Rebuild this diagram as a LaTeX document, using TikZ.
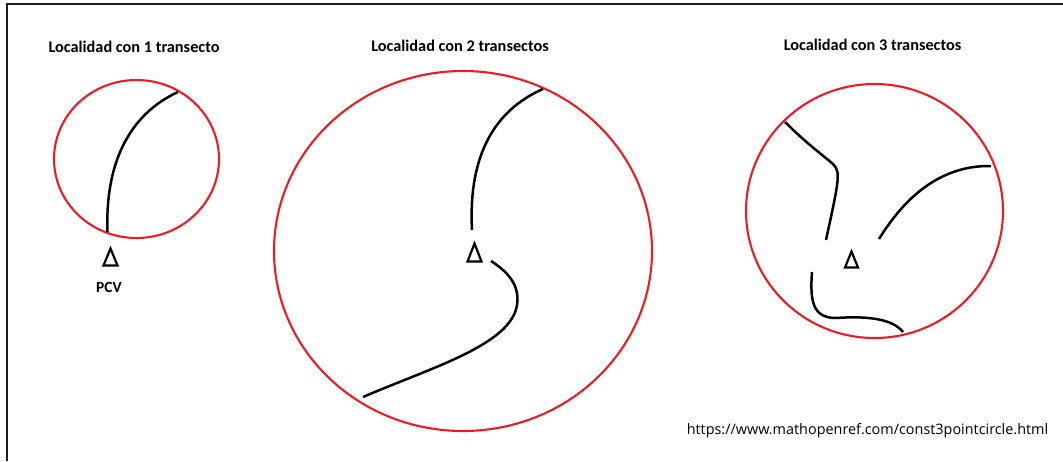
\documentclass[tikz,border=0pt]{standalone}
\usepackage{fontspec}
\setmainfont{Carlito}
\newfontfamily\urlfont{Open Sans}
\begin{document}
\begin{tikzpicture}[x=1pt,y=-1pt,
  zone/.style={draw={rgb,255:red,237;green,28;blue,36},line width=2.1pt},
  tran/.style={draw=black,line width=2.5pt,line cap=butt},
  pcv/.style={draw=black,line width=2.2pt,line join=miter},
  ttl/.style={font=\bfseries\fontsize{16.3}{19}\selectfont,inner sep=0pt},
  lbl/.style={font=\bfseries\fontsize{15.5}{18}\selectfont,inner sep=0pt},
  web/.style={font=\urlfont\fontsize{14.4}{17}\selectfont,inner sep=0pt}]
\useasboundingbox (0,0) rectangle (1063,461);
% frame (top and left edges)
\draw[line width=2.2pt,draw={rgb,255:red,30;green,30;blue,30}] (7,461) -- (7,4) -- (1063,4);
% titles
\node[ttl] (t1) at (134,47) {Localidad con 1 transecto};
\node[ttl] (t2) at (460,46) {Localidad con 2 transectos};
\node[ttl] (t3) at (872.5,45) {Localidad con 3 transectos};
% circles
\draw[zone] (136.5,159) ellipse [x radius=82.5, y radius=79];
\draw[zone] (463,251) ellipse [x radius=189, y radius=180];
\draw[zone] (874.5,211) ellipse [x radius=128.5, y radius=127];
% transect 1
\draw[tran] (107.5,232) .. controls (105,165) and (128,115) .. (178,92);
% transects 2
\draw[tran] (472,230) .. controls (468,155) and (495,110) .. (543,89);
\draw[tran] (491,261) .. controls (508,272) and (520,285) .. (517,305) .. controls (511,345) and (430,368) .. (363,397);
% transects 3
\draw[tran] (785,122) .. controls (805,142) and (820,153) .. (833,164) .. controls (841,172) and (839,180) .. (826,240);
\draw[tran] (879,239) .. controls (900,205) and (935,165) .. (991,166);
\draw[tran] (812,272) .. controls (810,300) and (812,318) .. (836,318) .. controls (865,316) and (892,318) .. (903,332);
% PCV triangles
\draw[pcv] (103.5,265.5) -- (110.5,248.5) -- (117.5,265.5) -- cycle;
\draw[pcv] (467.5,261.5) -- (474.5,243.5) -- (481.5,261.5) -- cycle;
\draw[pcv] (845,267.5) -- (851.5,251.5) -- (858,267.5) -- cycle;
\node[lbl] (pcvl) at (109,287) {PCV};
% url
\node[web] (url) at (867.5,431) {https://www.mathopenref.com/const3pointcircle.html};
\end{tikzpicture}
\end{document}
